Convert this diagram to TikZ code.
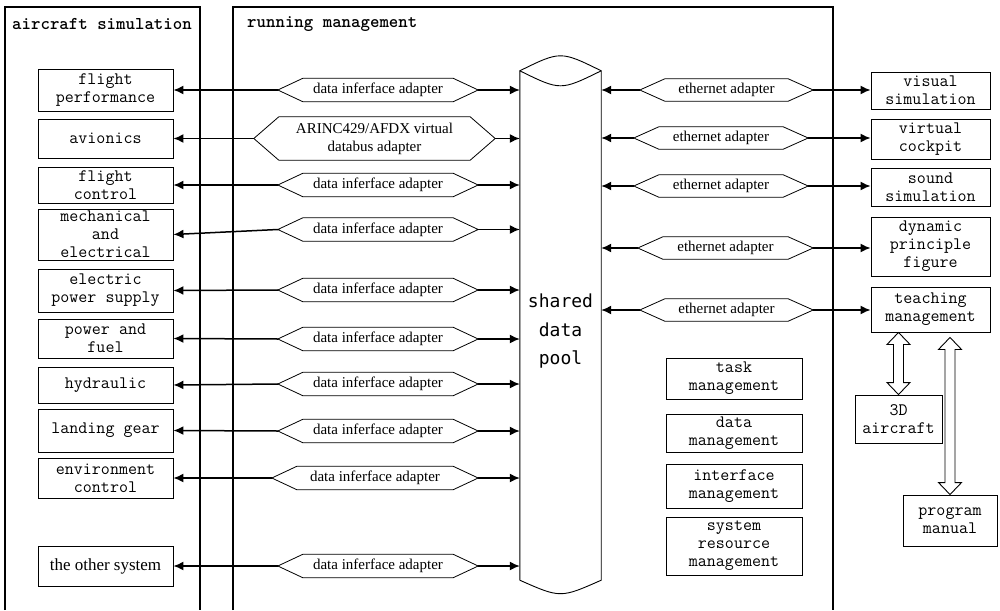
\documentclass[tikz,border=0pt]{standalone}
\usepackage{fontspec}
\setmainfont{Liberation Serif}
\newfontfamily\poolfont{DejaVu Sans Mono}
\usetikzlibrary{arrows.meta,calc}

\tikzset{
  panel/.style={line width=1.2pt},
  sysbox/.style={draw, line width=0.9pt, rectangle, inner sep=0pt, align=center,
    font=\ttfamily\fontsize{17.5}{18}\selectfont},
  adapter/.style={rectangle, inner sep=0pt, minimum height=23pt, minimum width=200pt,
    align=center, font=\fontsize{15}{18}\selectfont},
  hexline/.style={line width=0.8pt},
  link/.style={line width=1.5pt, -{Latex[length=10pt,width=9pt]}},
  blockarrow/.style={draw, line width=0.9pt, fill=white, line join=miter},
  heading/.style={anchor=west, inner sep=0pt, font=\ttfamily\bfseries\fontsize{18}{20}\selectfont}
}

% hexagonal outline around an adapter node
\newcommand\hexa[1]{\draw[hexline] (#1.west) -- ([xshift=25pt]#1.north west)
  -- ([xshift=-25pt]#1.north east) -- (#1.east) -- ([xshift=-25pt]#1.south east)
  -- ([xshift=25pt]#1.south west) -- cycle;}

% hollow vertical double-headed block arrow from #1 (top) to #2 (bottom)
\newcommand\dblarrow[2]{\path[blockarrow] let \p1=(#1), \p2=(#2) in
  (\x1,\y1) -- (\x1+11.5pt,\y1-12pt) -- (\x1+5pt,\y1-12pt) -- (\x1+5pt,\y2+12pt)
  -- (\x1+11.5pt,\y2+12pt) -- (\x1,\y2) -- (\x1-11.5pt,\y2+12pt) -- (\x1-5pt,\y2+12pt)
  -- (\x1-5pt,\y1-12pt) -- (\x1-11.5pt,\y1-12pt) -- cycle;}

\begin{document}
\begin{tikzpicture}[x=1pt,y=-1pt]
\useasboundingbox (0,0) rectangle (1000,610);

% the two frames, open at the bottom
\draw[panel] (5,610) -- (5,7) -- (200,7) -- (200,610);
\draw[panel] (233,610) -- (233,7) -- (833,7) -- (833,610);
\node[heading] (hsim) at (12,24) {aircraft simulation};
\node[heading] (hrun) at (247,24) {running management};

% aircraft subsystems
\node[sysbox, minimum width=135pt, minimum height=42pt] (lb1) at (105.5,90) {flight\\performance};
\node[sysbox, minimum width=135pt, minimum height=39pt] (lb2) at (105.5,138.5) {avionics};
\node[sysbox, minimum width=135pt, minimum height=36pt] (lb3) at (105.5,185) {flight\\control};
\node[sysbox, minimum width=135pt, minimum height=51pt] (lb4) at (105.5,234.5) {mechanical\\and\\electrical};
\node[sysbox, minimum width=135pt, minimum height=43pt] (lb5) at (105.5,290.5) {electric\\power supply};
\node[sysbox, minimum width=135pt, minimum height=39pt] (lb6) at (105.5,338.5) {power and\\fuel};
\node[sysbox, minimum width=135pt, minimum height=36pt] (lb7) at (105.5,385) {hydraulic};
\node[sysbox, minimum width=135pt, minimum height=43pt] (lb8) at (105.5,430.5) {landing gear};
\node[sysbox, minimum width=135pt, minimum height=40pt] (lb9) at (105.5,478) {environment\\control};
\node[sysbox, minimum width=135pt, minimum height=40pt, font=\rmfamily\fontsize{17}{20}\selectfont] (lb10) at (105.5,566) {the other system};

% adapters on the simulation side
\node[adapter] (a1) at (378,90) {data inferface adapter};
\node[adapter, minimum width=241pt, minimum height=43pt] (a2) at (374.5,138.5) {ARINC429/AFDX virtual\\databus adapter};
\node[adapter] (a3) at (378,185) {data inferface adapter};
\node[adapter] (a4) at (378,229.5) {data inferface adapter};
\node[adapter] (a5) at (378,290) {data inferface adapter};
\node[adapter] (a6) at (378,339) {data inferface adapter};
\node[adapter] (a7) at (378,384) {data inferface adapter};
\node[adapter] (a8) at (378,431) {data inferface adapter};
\node[adapter, minimum width=206pt] (a9) at (375,478) {data inferface adapter};
\node[adapter] (a10) at (378,566) {data inferface adapter};
\foreach \n in {a1,a2,a3,a4,a5,a6,a7,a8,a9,a10} {\hexa{\n}}

% shared data pool cylinder
\node[rectangle, inner sep=0pt, minimum width=81pt, minimum height=509pt] (pool) at (560.5,325.5) {};
\draw[line width=0.9pt] (pool.south west) -- (pool.north west)
  .. controls ($(pool.north)+(0,-20)$) .. (pool.north east) -- (pool.south east)
  .. controls ($(pool.south)+(0,18)$) .. (pool.south west);
\draw[line width=0.9pt] (pool.north west) .. controls ($(pool.north)+(0,20)$) .. (pool.north east);
\node[align=center, inner sep=0pt, font=\poolfont\fontsize{18}{28.5}\selectfont] (pooltext) at (560.5,331.5) {shared\\data\\pool};

% links subsystem <- adapter -> pool
\foreach \i in {1,...,10} {
  \draw[link] (a\i.west) -- (lb\i.east);
  \draw[link] (a\i.east) -- (a\i.east -| pool.west);
}

% ethernet adapters
\node[adapter, minimum width=173pt, minimum height=22pt] (e1) at (726.5,90) {ethernet adapter};
\node[adapter, minimum width=174pt, minimum height=22pt] (e2) at (721,138) {ethernet adapter};
\node[adapter, minimum width=174pt, minimum height=22pt] (e3) at (721,186) {ethernet adapter};
\node[adapter, minimum width=175pt, minimum height=22pt] (e4) at (725.5,248) {ethernet adapter};
\node[adapter, minimum width=173pt, minimum height=22pt] (e5) at (726.5,310) {ethernet adapter};
\foreach \n in {e1,e2,e3,e4,e5} {\hexa{\n}}

% external applications
\node[sysbox, minimum width=119pt, minimum height=37pt] (r1) at (930.5,90.5) {visual\\simulation};
\node[sysbox, minimum width=119pt, minimum height=40pt] (r2) at (930.5,139) {virtual\\cockpit};
\node[sysbox, minimum width=119pt, minimum height=38pt] (r3) at (930.5,187) {sound\\simulation};
\node[sysbox, minimum width=119pt, minimum height=59pt] (r4) at (930.5,246.5) {dynamic\\principle\\figure};
\node[sysbox, minimum width=119pt, minimum height=45pt] (r5) at (930.5,309.5) {teaching\\management};

\foreach \i in {1,...,5} {
  \draw[link] (e\i.west) -- (e\i.west -| pool.east);
  \draw[link] (e\i.east) -- (e\i.east -| r\i.west);
}

% teaching resources
\node[sysbox, minimum width=87pt, minimum height=48pt] (ac) at (898.5,419) {3D\\aircraft};
\node[sysbox, minimum width=94pt, minimum height=51pt] (pm) at (950,520.5) {program\\manual};
\dblarrow{ac.north |- r5.south}{ac.north}
\dblarrow{$(pm.north |- r5.south)+(0,5)$}{pm.north}

% management services
\node[sysbox, minimum width=136pt, minimum height=41pt] (m1) at (734,378.5) {task\\management};
\node[sysbox, minimum width=136pt, minimum height=38pt] (m2) at (734,433) {data\\management};
\node[sysbox, minimum width=136pt, minimum height=44pt] (m3) at (734,486) {interface\\management};
\node[sysbox, minimum width=136pt, minimum height=58pt] (m4) at (734,546) {system\\resource\\management};
\end{tikzpicture}
\end{document}
